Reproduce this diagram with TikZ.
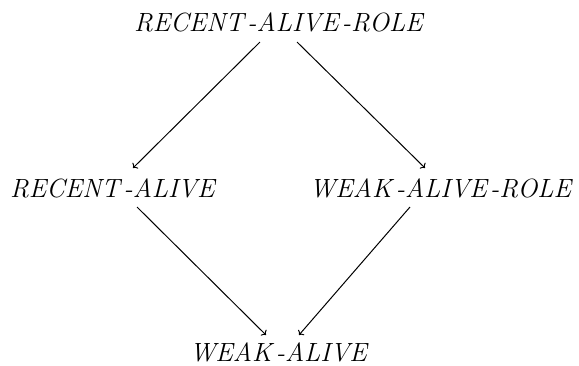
\documentclass[tikz,border=0pt]{standalone}
\usetikzlibrary{arrows.meta}
\newcommand{\hy}{\mbox{\itshape -}}
\newcommand{\lab}[1]{\scalebox{1.06}{$#1$}}
\begin{document}
\begin{tikzpicture}[x=1pt,y=-1pt,
  lbl/.style={inner sep=0pt, font=\fontsize{24.88}{30}\selectfont},
  edge/.style={->, line width=1pt}]
\useasboundingbox (0,0) rectangle (579,365);
\node[lbl] (top) at (280,22) {\lab{\mathit{RECENT}\hy\mathit{ALIVE}\hy\mathit{ROLE}}};
\node[lbl] (left) at (114,188) {\lab{\mathit{RECENT}\hy\mathit{ALIVE}}};
\node[lbl] (right) at (442,188) {\lab{\mathit{WEAK}\hy\mathit{ALIVE}\hy\mathit{ROLE}}};
\node[lbl] (bot) at (280,352) {\lab{\mathit{WEAK}\hy\mathit{ALIVE}}};
\coordinate (t1) at (260,42);
\coordinate (l1) at (133,168);
\coordinate (t2) at (297,42);
\coordinate (r1) at (425,168);
\coordinate (l2) at (137,207);
\coordinate (b1) at (266,335);
\coordinate (r2) at (410,207);
\coordinate (b2) at (299,335);
\draw[edge] (t1) -- (l1);
\draw[edge] (t2) -- (r1);
\draw[edge] (l2) -- (b1);
\draw[edge] (r2) -- (b2);
\end{tikzpicture}
\end{document}
